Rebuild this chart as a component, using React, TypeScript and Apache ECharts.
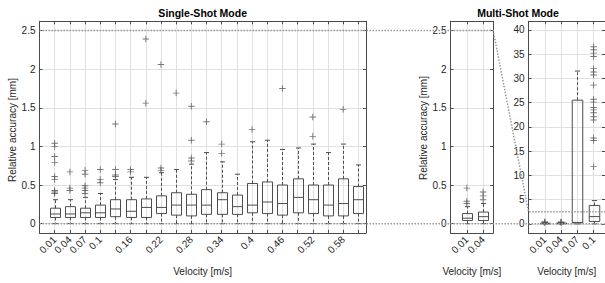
import { useEffect, useRef } from 'react';
import * as echarts from 'echarts';

// ---------- DATA ----------
const singleLabels = ['0.01', '0.04', '0.07', '0.1', '0.13', '0.16', '0.19', '0.22', '0.25', '0.28', '0.31', '0.34', '0.37', '0.4', '0.43', '0.46', '0.49', '0.52', '0.55', '0.58', '0.61'];
const singleShownLabels = ['0.01', '0.04', '0.07', '0.1', '0.16', '0.22', '0.28', '0.34', '0.4', '0.46', '0.52', '0.58'];
const singleLow = [0, 0, 0, 0, 0, 0, 0, 0, 0, 0, 0, 0, 0, 0, 0, 0, 0, 0, 0, 0, 0];
const singleQ1 = [0.08, 0.08, 0.08, 0.08, 0.09, 0.08, 0.08, 0.13, 0.11, 0.1, 0.12, 0.12, 0.12, 0.14, 0.13, 0.11, 0.14, 0.13, 0.1, 0.1, 0.13];
const singleMedian = [0.125, 0.125, 0.14, 0.14, 0.19, 0.16, 0.21, 0.21, 0.24, 0.24, 0.24, 0.31, 0.22, 0.24, 0.28, 0.26, 0.34, 0.31, 0.24, 0.26, 0.31];
const singleQ3 = [0.2, 0.22, 0.2, 0.24, 0.31, 0.31, 0.32, 0.36, 0.4, 0.38, 0.44, 0.4, 0.37, 0.52, 0.54, 0.5, 0.58, 0.5, 0.5, 0.58, 0.48];
const singleHigh = [0.31, 0.31, 0.34, 0.39, 0.57, 0.6, 0.6, 0.66, 0.7, 0.77, 0.92, 0.8, 0.64, 1.06, 1.08, 0.96, 0.98, 1.03, 0.92, 1.03, 0.76];
const singleOutliers: number[][] = [
  [1.04, 1.0, 0.87, 0.79, 0.61, 0.57, 0.43, 0.41, 0.39],
  [0.67, 0.46, 0.43],
  [0.69, 0.64, 0.49, 0.46, 0.43, 0.39],
  [0.7, 0.57, 0.53],
  [1.29, 0.7, 0.63, 0.61],
  [0.7, 0.67],
  [2.39, 1.56],
  [2.06, 0.72, 0.69],
  [1.69],
  [1.52, 1.08, 0.85, 0.81],
  [1.32],
  [1.03, 0.91],
  [],
  [1.22],
  [],
  [1.75],
  [],
  [1.38, 1.13],
  [],
  [1.48],
  [],
];

const multiLabels = ['0.01', '0.04', '0.07', '0.1'];
const multiLow = [0, 0, 0, 0];
const multiQ1 = [0.04, 0.04, 0.2, 0.5];
const multiMedian = [0.07, 0.09, 0.3, 1.5];
const multiQ3 = [0.13, 0.15, 25.5, 3.8];
const multiHigh = [0.22, 0.26, 31.5, 4.8];
const multiOutliers: number[][] = [
  [0.46, 0.29, 0.26],
  [0.41, 0.36, 0.31],
  [],
  [36.5, 35.9, 35.2, 34.5, 32.0, 31.3, 30.7, 28.6, 25.7, 25.1, 24.0, 23.5, 22.9, 22.1, 21.4, 17.7, 17.2, 11.8],
];
const zoomCount = 2; // the middle panel shows the first two multi-shot velocities
const zoomLevel = 2.5;

// ---------- STYLE / LAYOUT ----------
const FONT = 'Liberation Sans, Arial, Helvetica, sans-serif';
const TEXT = '#262626';
const AXIS = '#4a4a4a';
const GRID = '#e0e0e0';
const BOX = '#4d4d4d';
const DOT = '#999999';
const TOP = 21.3;
const HEIGHT = 211.6;
const SMALL_Y = [-0.12, 2.62];
const BIG_Y = [-1.86, 41.76];
const X0_MAX = 21.5;
const X1_MAX = 2.62;
const X2_MAX = 4.7;
const PLUS = 'path://M4.3,0H5.7V4.3H10V5.7H5.7V10H4.3V5.7H0V4.3H4.3Z';

function boxRenderer(boxWidth: number) {
  return (_params: any, api: any) => {
    const x = api.value(0);
    const lo = api.coord([x, api.value(1)]);
    const q1 = api.coord([x, api.value(2)]);
    const md = api.coord([x, api.value(3)]);
    const q3 = api.coord([x, api.value(4)]);
    const hi = api.coord([x, api.value(5)]);
    const cx = Math.round(lo[0]) + 0.5;
    const hw = boxWidth / 2;
    const cw = boxWidth / 4;
    const solid = { stroke: BOX, lineWidth: 1, fill: 'none' };
    const dashed = { stroke: BOX, lineWidth: 1, fill: 'none', lineDash: [3, 2] };
    return {
      type: 'group',
      children: [
        { type: 'line', shape: { x1: cx, y1: q3[1], x2: cx, y2: hi[1] }, style: dashed },
        { type: 'line', shape: { x1: cx, y1: q1[1], x2: cx, y2: lo[1] }, style: dashed },
        { type: 'line', shape: { x1: cx - cw, y1: hi[1], x2: cx + cw, y2: hi[1] }, style: solid },
        { type: 'line', shape: { x1: cx - cw, y1: lo[1], x2: cx + cw, y2: lo[1] }, style: solid },
        { type: 'rect', shape: { x: cx - hw, y: q3[1], width: boxWidth, height: Math.max(q1[1] - q3[1], 0.5) }, style: solid },
        { type: 'line', shape: { x1: cx - hw, y1: md[1], x2: cx + hw, y2: md[1] }, style: solid },
      ],
    };
  };
}

function boxData(lo: number[], q1: number[], md: number[], q3: number[], hi: number[], n: number) {
  const out: number[][] = [];
  for (let i = 0; i < n; i++) out.push([i + 1, lo[i], q1[i], md[i], q3[i], hi[i]]);
  return out;
}
function outlierData(list: number[][], n: number) {
  const out: number[][] = [];
  for (let i = 0; i < n; i++) for (const v of list[i]) out.push([i + 1, v]);
  return out;
}

function xBottom(grid: number, max: number, labelFor: (i: number) => string) {
  return {
    type: 'value', gridIndex: grid, min: 0, max, minInterval: 1, maxInterval: 1,
    axisLine: { show: true, onZero: false, lineStyle: { color: AXIS, width: 1 } },
    axisTick: { show: true, inside: true, length: 3, lineStyle: { color: AXIS } },
    axisLabel: {
      rotate: 45, margin: 5, color: TEXT, fontSize: 10, fontFamily: FONT,
      showMinLabel: false, showMaxLabel: false,
      formatter: (v: number) => (Number.isInteger(v) ? labelFor(v) : ''),
    },
    splitLine: { show: true, lineStyle: { color: GRID, width: 1 } },
  };
}
function xTop(grid: number, max: number) {
  return {
    type: 'value', gridIndex: grid, position: 'top', min: 0, max, minInterval: 1, maxInterval: 1,
    axisLine: { show: true, onZero: false, lineStyle: { color: AXIS, width: 1 } },
    axisTick: { show: true, inside: true, length: 3, lineStyle: { color: AXIS } },
    axisLabel: { show: false }, splitLine: { show: false },
  };
}
function yLeft(grid: number, range: number[], step: number) {
  return {
    type: 'value', gridIndex: grid, min: range[0], max: range[1], minInterval: step, maxInterval: step,
    axisLine: { show: true, onZero: false, lineStyle: { color: AXIS, width: 1 } },
    axisTick: { show: true, inside: true, length: 3, lineStyle: { color: AXIS } },
    axisLabel: {
      color: TEXT, fontSize: 10, fontFamily: FONT, margin: 4,
      showMinLabel: false, showMaxLabel: false,
      formatter: (v: number) => (Math.abs(v / step - Math.round(v / step)) < 1e-6 ? String(+v.toFixed(2)) : ''),
    },
    splitLine: { show: true, lineStyle: { color: GRID, width: 1 } },
  };
}
function yRight(grid: number, range: number[], step: number) {
  return {
    type: 'value', gridIndex: grid, position: 'right', min: range[0], max: range[1], minInterval: step, maxInterval: step,
    axisLine: { show: true, onZero: false, lineStyle: { color: AXIS, width: 1 } },
    axisTick: { show: true, inside: true, length: 3, lineStyle: { color: AXIS } },
    axisLabel: { show: false }, splitLine: { show: false },
  };
}

export default function App() {
  const ref = useRef<HTMLDivElement>(null);
  useEffect(() => {
    document.body.style.margin = '0';
    if (!ref.current) return;
    const chart = echarts.init(ref.current, null, { renderer: 'svg' });
    const singleLabelFor = (i: number) => {
      const l = singleLabels[i - 1];
      return l && singleShownLabels.includes(l) ? l : '';
    };
    const multiLabelFor = (i: number) => multiLabels[i - 1] || '';
    const scatterStyle = { color: '#555555' };
    chart.setOption({
      animation: false,
      textStyle: { fontFamily: FONT },
      grid: [
        { left: 39.5, top: TOP, width: 326.4, height: HEIGHT },
        { left: 450.5, top: TOP, width: 42.7, height: HEIGHT },
        { left: 528.5, top: TOP, width: 78.5, height: HEIGHT },
      ],
      xAxis: [
        xBottom(0, X0_MAX, singleLabelFor),
        xBottom(1, X1_MAX, multiLabelFor),
        xBottom(2, X2_MAX, multiLabelFor),
        xTop(0, X0_MAX), xTop(1, X1_MAX), xTop(2, X2_MAX),
      ],
      yAxis: [
        yLeft(0, SMALL_Y, 0.5), yLeft(1, SMALL_Y, 0.5), yLeft(2, BIG_Y, 5),
        yRight(0, SMALL_Y, 0.5), yRight(1, SMALL_Y, 0.5), yRight(2, BIG_Y, 5),
      ],
      series: [
        {
          type: 'custom', xAxisIndex: 0, yAxisIndex: 0, renderItem: boxRenderer(10),
          encode: { x: 0, y: [1, 2, 3, 4, 5] }, z: 3,
          data: boxData(singleLow, singleQ1, singleMedian, singleQ3, singleHigh, singleLabels.length),
        },
        {
          type: 'scatter', xAxisIndex: 0, yAxisIndex: 0, symbol: PLUS, symbolSize: 6.5, itemStyle: scatterStyle, z: 4,
          data: outlierData(singleOutliers, singleLabels.length),
        },
        {
          type: 'custom', xAxisIndex: 1, yAxisIndex: 1, renderItem: boxRenderer(10),
          encode: { x: 0, y: [1, 2, 3, 4, 5] }, z: 3,
          data: boxData(multiLow, multiQ1, multiMedian, multiQ3, multiHigh, zoomCount),
        },
        {
          type: 'scatter', xAxisIndex: 1, yAxisIndex: 1, symbol: PLUS, symbolSize: 6.5, itemStyle: scatterStyle, z: 4,
          data: outlierData(multiOutliers, zoomCount),
        },
        {
          type: 'custom', xAxisIndex: 2, yAxisIndex: 2, renderItem: boxRenderer(10.5),
          encode: { x: 0, y: [1, 2, 3, 4, 5] }, z: 3,
          data: boxData(multiLow, multiQ1, multiMedian, multiQ3, multiHigh, multiLabels.length),
        },
        {
          type: 'scatter', xAxisIndex: 2, yAxisIndex: 2, symbol: PLUS, symbolSize: 6.5, itemStyle: scatterStyle, z: 4,
          data: outlierData(multiOutliers, multiLabels.length),
        },
      ],
    });

    const px = (g: number, x: number, y: number) => chart.convertToPixel({ xAxisIndex: g, yAxisIndex: g }, [x, y]) as number[];
    const a = px(0, 0, zoomLevel);
    const b = px(1, X1_MAX, zoomLevel);
    const c = px(2, 0, zoomLevel);
    const d = px(2, X2_MAX, zoomLevel);
    const z0 = px(0, 0, 0);
    const z1 = px(2, X2_MAX, 0);
    const dotStyle = { stroke: DOT, lineWidth: 1.5, lineDash: [1.5, 1.5], fill: 'none' };
    const textStyle = (text: string, bold = false) => ({
      text, fill: bold ? '#000' : TEXT, fontSize: bold ? 10.5 : 10, fontWeight: bold ? 'bold' : 'normal',
      fontFamily: FONT, align: 'center', verticalAlign: 'middle',
    });
    const mid0 = (px(0, 0, 0)[0] + px(0, X0_MAX, 0)[0]) / 2;
    const mid1 = (px(1, 0, 0)[0] + px(1, X1_MAX, 0)[0]) / 2;
    const mid2 = (px(2, 0, 0)[0] + px(2, X2_MAX, 0)[0]) / 2;
    chart.setOption({
      graphic: [
        { type: 'polyline', z: 10, silent: true, shape: { points: [a, b, c, d] }, style: dotStyle },
        { type: 'line', z: 10, silent: true, shape: { x1: z0[0], y1: z0[1], x2: z1[0], y2: z1[1] }, style: dotStyle },
        { type: 'text', x: mid0, y: 12.5, style: textStyle('Single-Shot Mode', true) },
        { type: 'text', x: 518, y: 12.5, style: textStyle('Multi-Shot Mode', true) },
        { type: 'text', x: mid0, y: 271.5, style: textStyle('Velocity [m/s]') },
        { type: 'text', x: mid1, y: 271.5, style: textStyle('Velocity [m/s]') },
        { type: 'text', x: mid2, y: 271.5, style: textStyle('Velocity [m/s]') },
        { type: 'text', x: 12.5, y: 130, rotation: Math.PI / 2, style: textStyle('Relative accuracy [mm]') },
        { type: 'text', x: 423, y: 128, rotation: Math.PI / 2, style: textStyle('Relative accuracy [mm]') },
      ],
    });
    return () => chart.dispose();
  }, []);
  return <div ref={ref} style={{ width: 605, height: 283 }} />;
}
